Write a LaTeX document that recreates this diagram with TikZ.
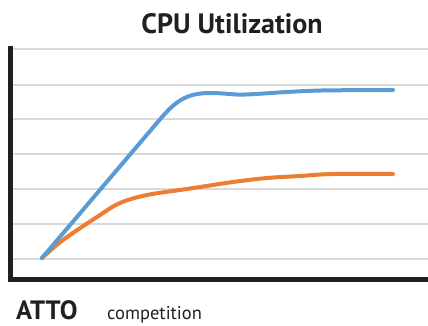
\documentclass[tikz,border=0pt]{standalone}
\usepackage{fontspec}
\setmainfont{PT Sans}
\definecolor{seriesblue}{HTML}{5B9BD5}
\definecolor{seriesorange}{HTML}{ED7D31}
\definecolor{axisblack}{HTML}{231F20}
\definecolor{gridgray}{HTML}{D9D9D9}
\begin{document}
\begin{tikzpicture}[x=1pt,y=-1pt,
  gridline/.style={draw=gridgray,line width=1.2pt},
  axisline/.style={draw=axisblack,line width=5pt},
  series/.style={line width=4pt,line cap=round,line join=round},
  caption/.style={inner sep=0pt,anchor=base west,text=axisblack}]
\useasboundingbox (0,0) rectangle (428,325);
% horizontal grid
\foreach \gy in {49,85,119,154,189,224,259}
  \draw[gridline] (13,\gy) -- (428,\gy);
% axes
\draw[axisline] (10,46) -- (10,279) -- (428,279);
% series
\draw[series,seriesorange] plot[smooth,tension=0.6] coordinates
  {(42,258) (63,240) (97,217) (120,203) (147,195) (180,190) (200,187) (233,182) (267,178) (300,176) (333,174) (393,174)};
\draw[series,seriesblue] (42,258) -- (156,124)
  .. controls (173,104) and (183,93) .. (210,93)
  .. controls (226,93) and (232,95) .. (245,94.5)
  .. controls (262,94) and (290,91) .. (330,90.3)
  -- (393,90);
% labels
\node[inner sep=0pt,anchor=base,text=axisblack,font=\fontsize{28}{32}\selectfont\bfseries] (title) at (232,33) {CPU Utilization};
\node[caption,font=\fontsize{26.5}{30}\selectfont\bfseries] (atto) at (16,319) {ATTO};
\node[caption,font=\fontsize{18.5}{22}\selectfont] (comp) at (107,319) {competition};
\end{tikzpicture}
\end{document}
